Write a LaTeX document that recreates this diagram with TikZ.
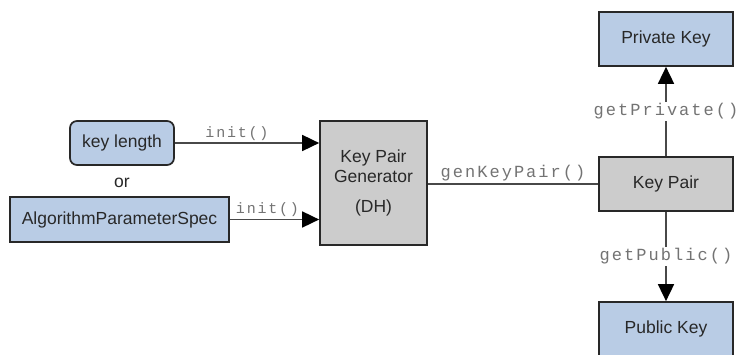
\documentclass[tikz,border=0pt]{standalone}
\usepackage{fontspec}
\setmainfont{Liberation Sans}
\newfontfamily\codefont[LetterSpace=12]{Liberation Mono}
\usetikzlibrary{arrows.meta}
\definecolor{boxblue}{RGB}{185,204,229}
\definecolor{boxgrey}{RGB}{204,204,204}
\definecolor{edgegrey}{RGB}{40,40,40}
\definecolor{linegrey}{RGB}{72,72,72}
\definecolor{labelgrey}{RGB}{115,115,115}
\tikzset{
	bluebox/.style={draw=edgegrey, line width=1.7pt, fill=boxblue, text=edgegrey, font=\fontsize{17.5}{20}\selectfont, inner sep=0pt},
	greybox/.style={bluebox, fill=boxgrey},
	callarrow/.style={draw=linegrey, line width=1.7pt, -{Triangle[length=17pt,width=16pt,color=black]}},
	calllabel/.style={text=labelgrey, font=\codefont\fontsize{17}{19}\selectfont, inner sep=2pt}
}

\begin{document}
\begin{tikzpicture}[x=1pt, y=1pt]
		%%%%% START %%%%%
		\useasboundingbox (0, 0) rectangle (738, 354);
		
		\node[bluebox, rounded corners=7pt, minimum width=104, minimum height=44] (keylen) at (122, 211) {key length};
		\node[text=edgegrey, font=\fontsize{17.5}{20}\selectfont] (orword) at (122, 171) {or};
		\node[bluebox, minimum width=219, minimum height=45] (algspec) at (119.5, 134.5) {AlgorithmParameterSpec};
		
		\node[greybox, minimum width=107, minimum height=124, align=center, font=\fontsize{17.5}{20}\selectfont] (kpgen) at (373.5, 171) {Key Pair\\Generator\\[10pt](DH)};
		
		\node[greybox, minimum width=134, minimum height=54] (keypair) at (666, 170) {Key Pair};
		\node[bluebox, minimum width=134, minimum height=54] (privkey) at (666, 315) {Private Key};
		\node[bluebox, minimum width=134, minimum height=54] (pubkey) at (666, 25) {Public Key};
		
		\draw[callarrow] (keylen.east) -- (keylen.east -| kpgen.west) node[calllabel, midway, above, xshift=-10pt, font=\codefont\fontsize{15}{17}\selectfont] {init()};
		\draw[callarrow] (algspec.east) -- (algspec.east -| kpgen.west) node[calllabel, midway, above, xshift=-7pt, font=\codefont\fontsize{15}{17}\selectfont] {init()};
		
		\draw[draw=linegrey, line width=1.3pt] (kpgen.east |- keypair.west) -- (keypair.west) node[calllabel, midway, above] {genKeyPair()};
		
		\draw[callarrow] (keypair.north) -- (privkey.south) node[calllabel, midway, fill=white] {getPrivate()};
		\draw[callarrow] (keypair.south) -- (pubkey.north) node[calllabel, midway, fill=white] {getPublic()};
		
		%%%%% END %%%%%
\end{tikzpicture}
\end{document}
